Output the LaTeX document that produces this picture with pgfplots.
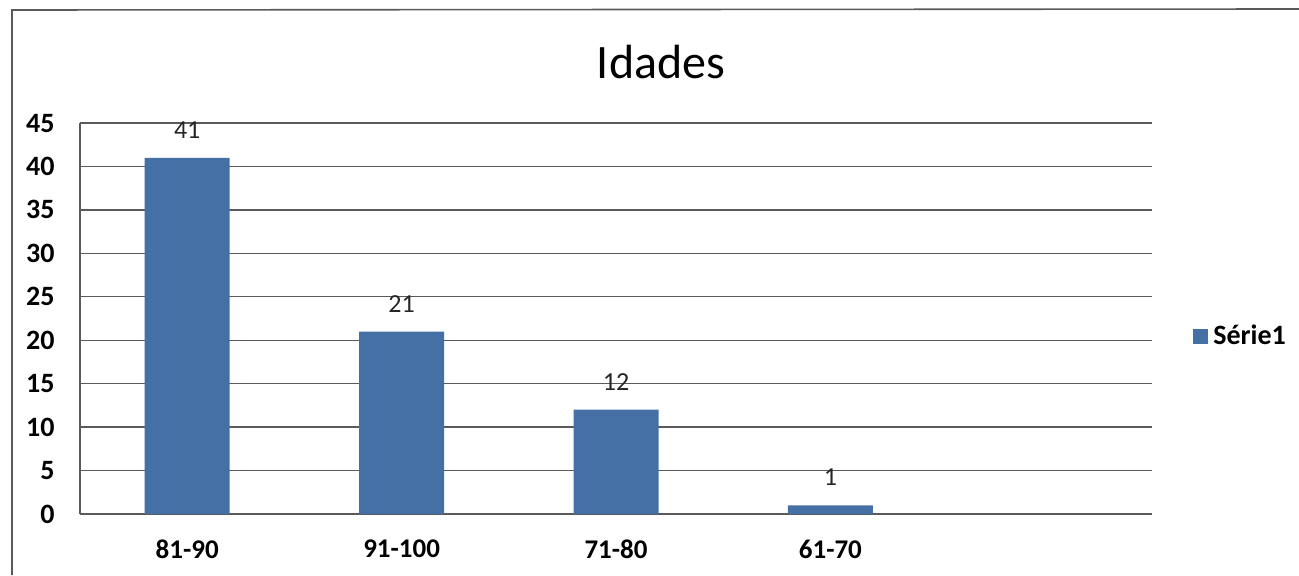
\documentclass[border=0pt]{standalone}
\usepackage{fontspec}
\setmainfont{Carlito}
\usepackage{pgfplots}
\pgfplotsset{compat=1.18}
\definecolor{barblue}{HTML}{4570A6}
\definecolor{gridgray}{HTML}{5A5A5A}

\begin{document}
\begin{tikzpicture}
  % 1 px of the reference = 0.5pt
  \useasboundingbox (0pt,0pt) rectangle (649.5pt,287.5pt);
  % outer chart frame (only left and top edges show in the scan)
  \draw[gridgray, line width=0.8pt] (6pt,0pt) -- (6pt,282.5pt) -- (649.5pt,283pt);
  \node[anchor=base, font=\fontsize{24}{28}\selectfont] at (330.5pt,248.5pt) {Idades};
  \begin{axis}[
      at={(40pt,30.5pt)}, anchor=south west,
      scale only axis,
      width=536pt, height=195.5pt,
      xmin=-0.5, xmax=4.5,
      ymin=0, ymax=45,
      ybar, bar width=42.5pt,
      xtick={0,1,2,3},
      xticklabels={81-90,91-100,71-80,61-70},
      ytick={0,5,...,45},
      /pgf/number format/assume math mode=true,
      axis lines*=left,
      axis line style={gridgray, line width=0.7pt},
      ymajorgrids,
      grid style={gridgray, line width=0.7pt},
      xtick style={draw=none},
      ytick style={draw=none},
      yticklabel style={font=\bfseries\fontsize{14}{16}\selectfont,
        anchor=east, inner sep=0pt, xshift=-12.5pt},
      xticklabel style={font=\bfseries\fontsize{13.5}{16}\selectfont,
        anchor=north, inner sep=0pt, yshift=-8.5pt},
      nodes near coords,
      every node near coord/.append style={font=\fontsize{13}{15}\selectfont,
        anchor=south, inner sep=0pt, yshift=9.5pt, black!85},
      legend style={draw=none, fill=none, at={(1,0.455)}, anchor=west,
        xshift=20.5pt, inner sep=0pt,
        font=\bfseries\fontsize{14}{16}\selectfont,
        nodes={inner sep=2.5pt}},
      legend image code/.code={\fill[barblue] (0pt,-3.75pt) rectangle (7.5pt,3.75pt);},
    ]
    \addplot[fill=barblue, draw=none] coordinates {(0,41) (1,21) (2,12) (3,1)};
    \addlegendentry{Série1}
  \end{axis}
\end{tikzpicture}
\end{document}
